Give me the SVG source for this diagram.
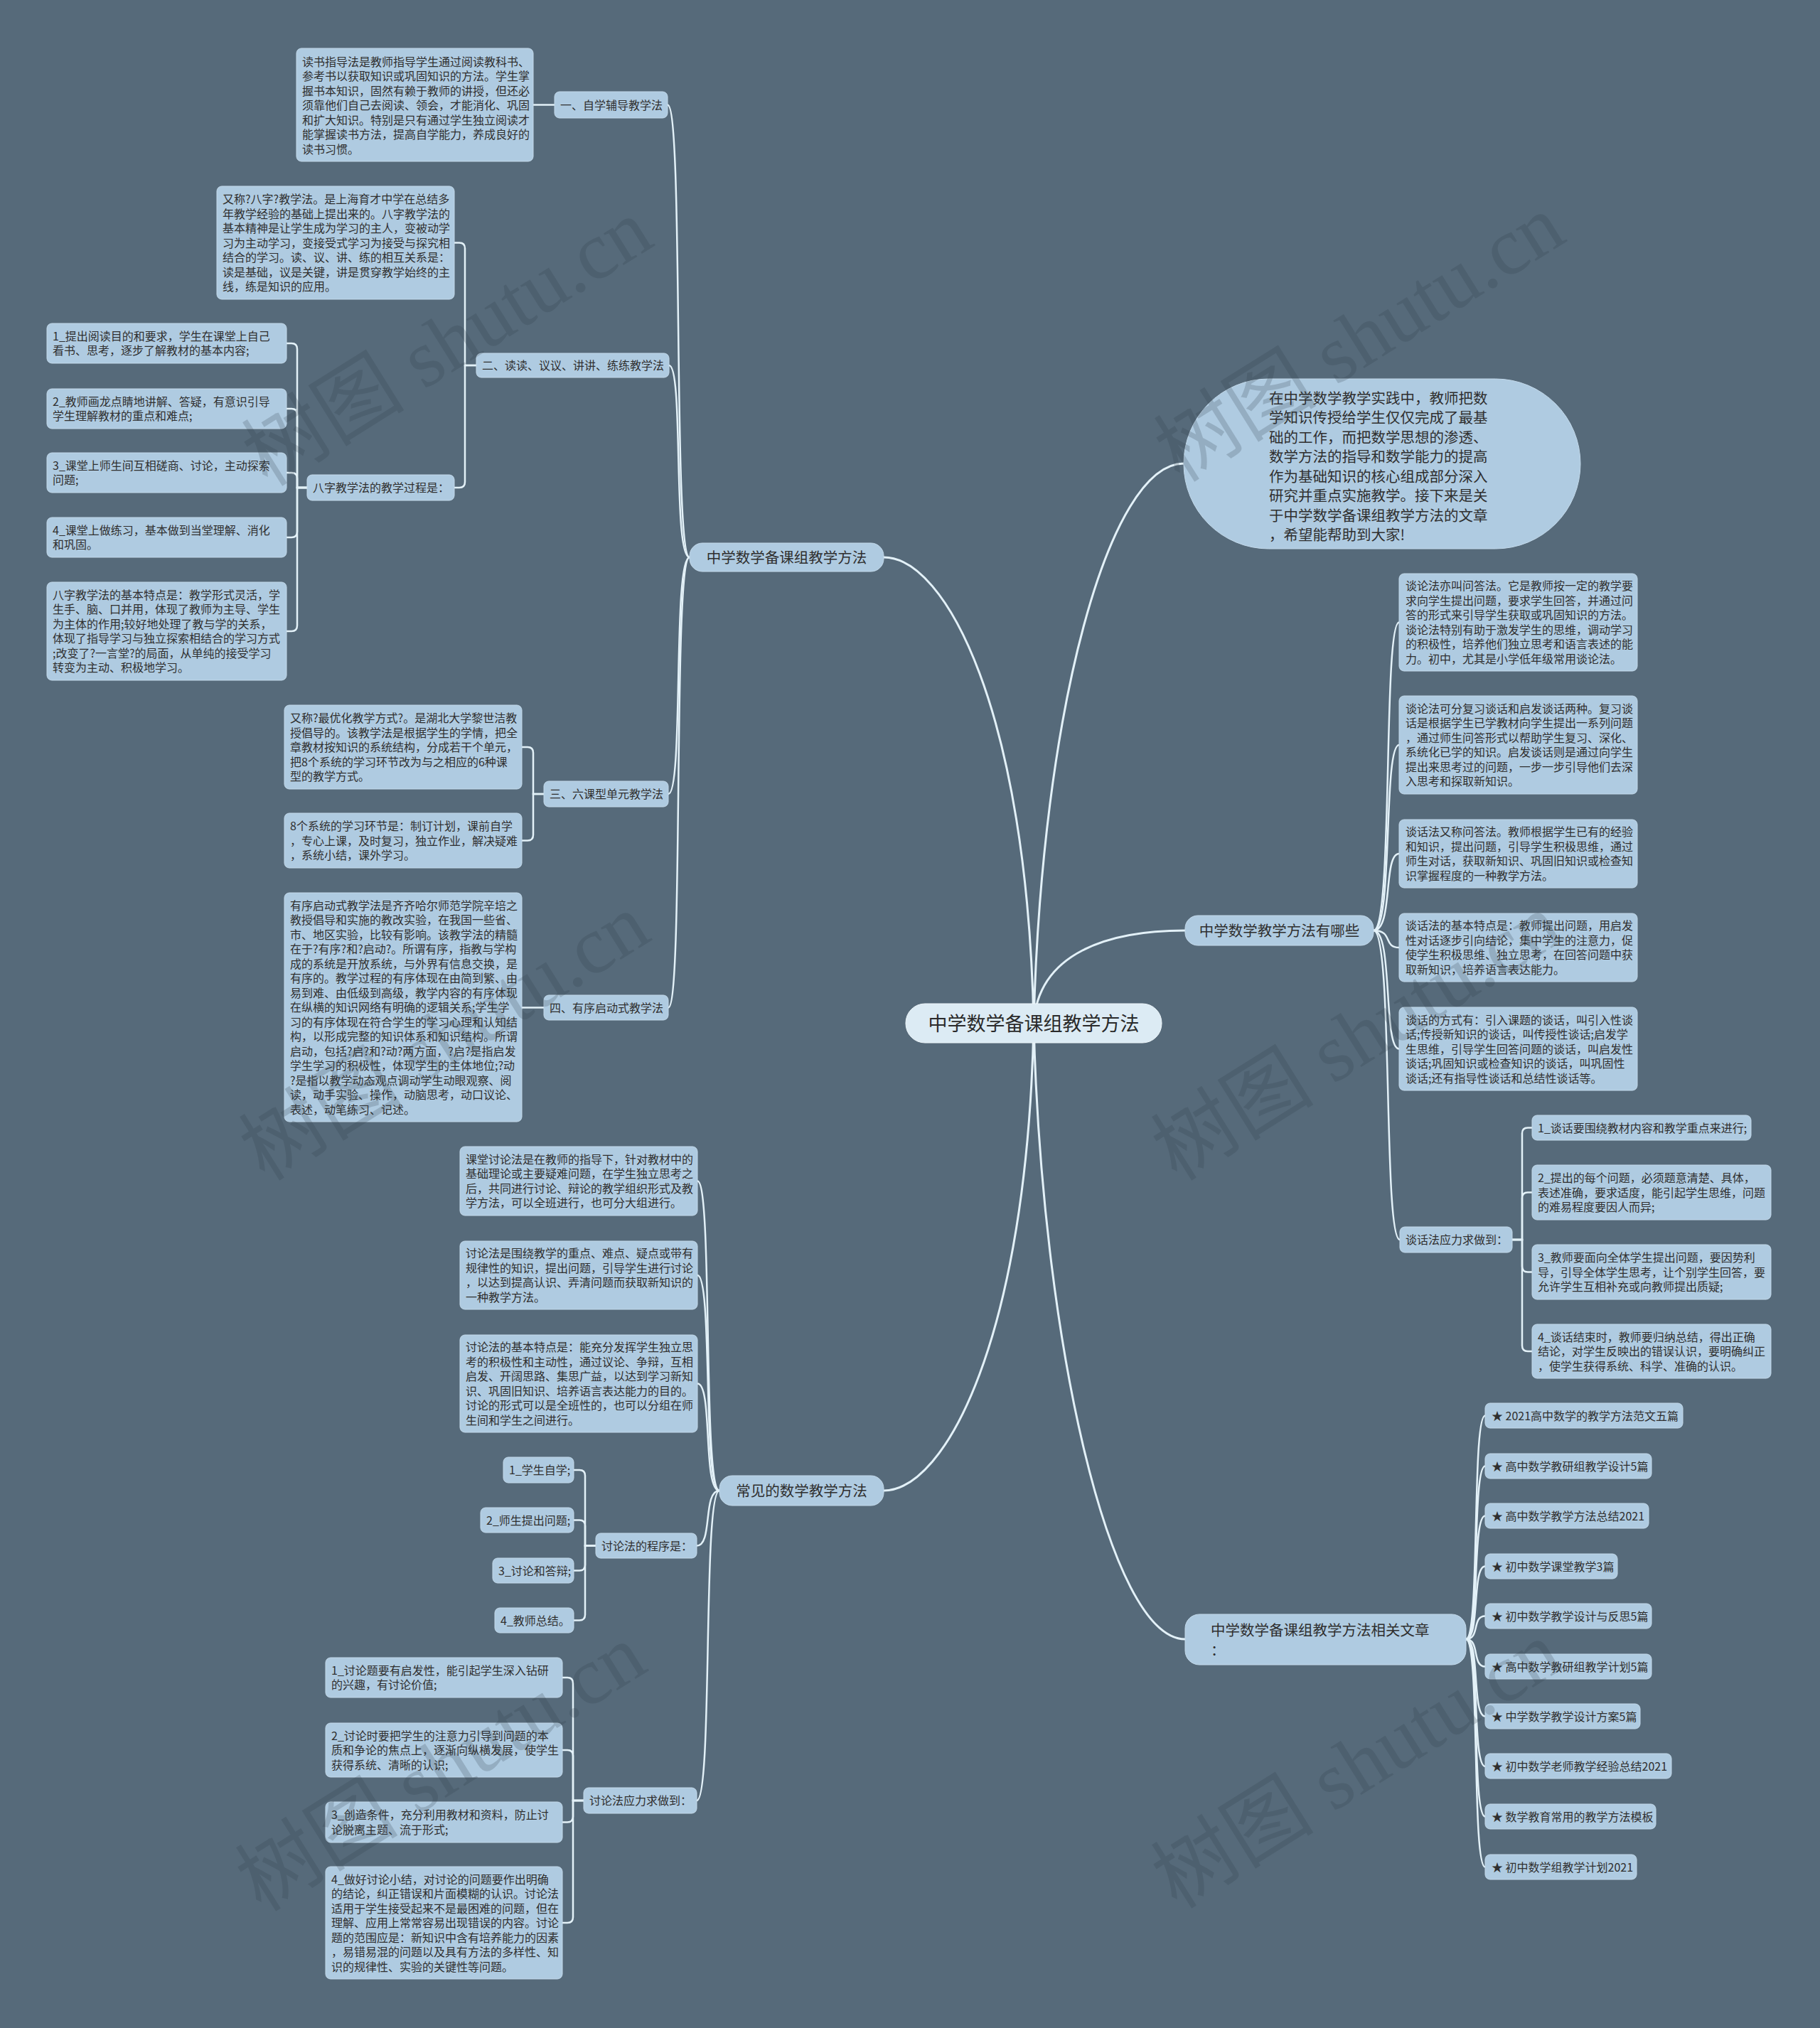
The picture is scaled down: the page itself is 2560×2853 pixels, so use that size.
<svg xmlns="http://www.w3.org/2000/svg" width="2560" height="2853" viewBox="0 0 2560 2853">
<style>
.bg{fill:#566a7a}
.n rect{fill:#afcbe1;stroke:#c3d9ea;stroke-width:1}
.n text{font-family:"Noto Sans CJK SC","Noto Sans",sans-serif;font-size:16px;fill:#2f2f2f}
.m rect{fill:#afcbe1;stroke:#c3d9ea;stroke-width:1}
.m text{font-family:"Noto Sans CJK SC","Noto Sans",sans-serif;font-size:20.5px;fill:#2f2f2f}
.root rect{fill:#dcebf4;stroke:#eef6fa;stroke-width:1}
.root text{font-family:"Noto Sans CJK SC","Noto Sans",sans-serif;font-size:27px;fill:#2a2a2a}
.c path{fill:none;stroke:#e3f1f8;stroke-width:2.5;stroke-linecap:round}
.c .main{stroke-width:3}
.wm{font-family:"Liberation Serif","Noto Sans CJK SC",serif;font-size:115px;fill:#2c3a46;opacity:0.2}
</style>
<rect class="bg" x="0" y="0" width="2560" height="2853"/>

<g id="connectors" class="c">
<!-- root curves -->
<path class="main" d="M1454,1440 C1445,1000 1330,784 1243,784"/>
<path class="main" d="M1454,1440 C1445,1880 1330,2097 1243,2097"/>
<path class="main" d="M1454,1440 C1465,1000 1560,652 1665,652"/>
<path class="main" d="M1454,1440 C1460,1340 1560,1309 1667,1309"/>
<path class="main" d="M1454,1440 C1465,1880 1560,2306 1667,2306"/>
<!-- left branch level 2 -->
<path d="M970,784 C946,784 962,147.5 939,147.5"/>
<path d="M970,784 C946,784 962,514 941,514"/>
<path d="M970,784 C946,784 962,1117 940,1117"/>
<path d="M970,784 C946,784 962,1417.5 940,1417.5"/>
<!-- 常见 level 2 -->
<path d="M1012,2097 C988,2097 1003,1661.5 981,1661.5"/>
<path d="M1012,2097 C988,2097 1003,1794 981,1794"/>
<path d="M1012,2097 C988,2097 1003,1946.5 981,1946.5"/>
<path d="M1012,2097 C988,2097 1003,2174.5 980,2174.5"/>
<path d="M1012,2097 C988,2097 1003,2533 980,2533"/>
<!-- 有哪些 level 2 -->
<path d="M1932,1309 C1960,1309 1945,875.5 1968,875.5"/>
<path d="M1932,1309 C1960,1309 1945,1048 1968,1048"/>
<path d="M1932,1309 C1960,1309 1945,1201 1968,1201"/>
<path d="M1932,1309 C1960,1309 1945,1333 1968,1333"/>
<path d="M1932,1309 C1960,1309 1945,1475.5 1968,1475.5"/>
<path d="M1932,1309 C1960,1309 1945,1744 1969,1744"/>
<!-- 相关文章 level 2 -->
<path d="M2062,2306 C2082,2306 2070,1991.5 2089,1991.5"/>
<path d="M2062,2306 C2082,2306 2070,2062.5 2089,2062.5"/>
<path d="M2062,2306 C2082,2306 2070,2132.5 2089,2132.5"/>
<path d="M2062,2306 C2082,2306 2070,2203.5 2089,2203.5"/>
<path d="M2062,2306 C2082,2306 2070,2273.5 2089,2273.5"/>
<path d="M2062,2306 C2082,2306 2070,2344.5 2089,2344.5"/>
<path d="M2062,2306 C2082,2306 2070,2414.5 2089,2414.5"/>
<path d="M2062,2306 C2082,2306 2070,2485 2089,2485"/>
<path d="M2062,2306 C2082,2306 2070,2555.5 2089,2555.5"/>
<path d="M2062,2306 C2082,2306 2070,2626.5 2089,2626.5"/>
<!-- elbows -->
<path d="M750,147.5 H780"/>
<path d="M639,341.5 H646 Q654,341.5 654,349.5 V514 H670"/>
<path d="M639,686 H646 Q654,686 654,678 V514 H670"/>
<path d="M403,483 H410 Q418,483 418,491 V686 H432"/>
<path d="M403,575 H410 Q418,575 418,583 V686 H432"/>
<path d="M403,665 H410 Q418,665 418,673 V686 H432"/>
<path d="M403,756 H410 Q418,756 418,748 V686 H432"/>
<path d="M403,888 H410 Q418,888 418,880 V686 H432"/>
<path d="M734,1051 H742 Q750,1051 750,1059 V1117 H765"/>
<path d="M734,1182.5 H742 Q750,1182.5 750,1174.5 V1117 H765"/>
<path d="M734,1417.5 H765"/>
<path d="M807,2068 H815 Q823,2068 823,2076 V2174.5 H838"/>
<path d="M807,2138.5 H815 Q823,2138.5 823,2146.5 V2174.5 H838"/>
<path d="M807,2209.5 H815 Q823,2209.5 823,2201.5 V2174.5 H838"/>
<path d="M807,2279.5 H815 Q823,2279.5 823,2271.5 V2174.5 H838"/>
<path d="M791,2360 H798 Q806,2360 806,2368 V2533 H821"/>
<path d="M791,2462 H798 Q806,2462 806,2470 V2533 H821"/>
<path d="M791,2563.5 H798 Q806,2563.5 806,2555.5 V2533 H821"/>
<path d="M791,2705 H798 Q806,2705 806,2697 V2533 H821"/>
<path d="M2127,1744 H2141 V1594.5 Q2141,1586.5 2149,1586.5 H2155"/>
<path d="M2127,1744 H2141 V1685.5 Q2141,1677.5 2149,1677.5 H2155"/>
<path d="M2127,1744 H2141 V1781.5 Q2141,1789.5 2149,1789.5 H2155"/>
<path d="M2127,1744 H2141 V1893 Q2141,1901 2149,1901 H2155"/>
</g>

<!-- root -->
<g id="root" class="root"><rect x="1274" y="1412" width="360" height="55" rx="27"/><text x="1454" y="1449.5" text-anchor="middle">中学数学备课组教学方法</text></g>

<!-- main branches -->
<g id="b-left" class="m"><rect x="970" y="764" width="273" height="40" rx="18"/><text x="1106.5" y="791.5" text-anchor="middle">中学数学备课组教学方法</text></g>
<g id="b-common" class="m"><rect x="1012" y="2076" width="231" height="42" rx="18"/><text x="1127.5" y="2105" text-anchor="middle">常见的数学教学方法</text></g>
<g id="b-intro" class="m"><rect x="1665" y="533" width="558" height="239" rx="119.5"/><text x="1785" y="567.8"><tspan x="1785">在中学数学教学实践中，教师把数</tspan><tspan x="1785" dy="27.5">学知识传授给学生仅仅完成了最基</tspan><tspan x="1785" dy="27.5">础的工作，而把数学思想的渗透、</tspan><tspan x="1785" dy="27.5">数学方法的指导和数学能力的提高</tspan><tspan x="1785" dy="27.5">作为基础知识的核心组成部分深入</tspan><tspan x="1785" dy="27.5">研究并重点实施教学。接下来是关</tspan><tspan x="1785" dy="27.5">于中学数学备课组教学方法的文章</tspan><tspan x="1785" dy="27.5">，希望能帮助到大家!</tspan></text></g>
<g id="b-which" class="m"><rect x="1667" y="1288" width="265" height="42" rx="18"/><text x="1799.5" y="1316.5" text-anchor="middle">中学数学教学方法有哪些</text></g>
<g id="b-related" class="m"><rect x="1667" y="2271" width="395" height="71" rx="20"/><text x="1703" y="2300.5"><tspan x="1703">中学数学备课组教学方法相关文章</tspan><tspan x="1703" dy="28">：</tspan></text></g>

<!-- left branch children -->
<g id="n1" class="n"><rect x="780" y="129" width="159" height="37" rx="7"/><text x="788" y="153.5">一、自学辅导教学法</text></g>
<g id="n1a" class="n"><rect x="417" y="68" width="333" height="159" rx="7"/><text x="425" y="92.5"><tspan x="425">读书指导法是教师指导学生通过阅读教科书、</tspan><tspan x="425" dy="20.5">参考书以获取知识或巩固知识的方法。学生掌</tspan><tspan x="425" dy="20.5">握书本知识，固然有赖于教师的讲授，但还必</tspan><tspan x="425" dy="20.5">须靠他们自己去阅读、领会，才能消化、巩固</tspan><tspan x="425" dy="20.5">和扩大知识。特别是只有通过学生独立阅读才</tspan><tspan x="425" dy="20.5">能掌握读书方法，提高自学能力，养成良好的</tspan><tspan x="425" dy="20.5">读书习惯。</tspan></text></g>

<g id="n2" class="n"><rect x="670" y="497" width="271" height="34" rx="7"/><text x="678" y="520">二、读读、议议、讲讲、练练教学法</text></g>
<g id="n2a" class="n"><rect x="305" y="262" width="334" height="159" rx="7"/><text x="313" y="286"><tspan x="313">又称?八字?教学法。是上海育才中学在总结多</tspan><tspan x="313" dy="20.5">年教学经验的基础上提出来的。八字教学法的</tspan><tspan x="313" dy="20.5">基本精神是让学生成为学习的主人，变被动学</tspan><tspan x="313" dy="20.5">习为主动学习，变接受式学习为接受与探究相</tspan><tspan x="313" dy="20.5">结合的学习。读、议、讲、练的相互关系是：</tspan><tspan x="313" dy="20.5">读是基础，议是关键，讲是贯穿教学始终的主</tspan><tspan x="313" dy="20.5">线，练是知识的应用。</tspan></text></g>
<g id="n2b" class="n"><rect x="432" y="668" width="207" height="36" rx="7"/><text x="440" y="692">八字教学法的教学过程是：</text></g>
<g id="n2b1" class="n"><rect x="66" y="455" width="337" height="56" rx="7"/><text x="74" y="478.75"><tspan x="74">1_提出阅读目的和要求，学生在课堂上自己</tspan><tspan x="74" dy="20.5">看书、思考，逐步了解教材的基本内容;</tspan></text></g>
<g id="n2b2" class="n"><rect x="66" y="547" width="337" height="56" rx="7"/><text x="74" y="570.75"><tspan x="74">2_教师画龙点睛地讲解、答疑，有意识引导</tspan><tspan x="74" dy="20.5">学生理解教材的重点和难点;</tspan></text></g>
<g id="n2b3" class="n"><rect x="66" y="637" width="337" height="56" rx="7"/><text x="74" y="660.75"><tspan x="74">3_课堂上师生间互相磋商、讨论，主动探索</tspan><tspan x="74" dy="20.5">问题;</tspan></text></g>
<g id="n2b4" class="n"><rect x="66" y="728" width="337" height="56" rx="7"/><text x="74" y="751.75"><tspan x="74">4_课堂上做练习，基本做到当堂理解、消化</tspan><tspan x="74" dy="20.5">和巩固。</tspan></text></g>
<g id="n2b5" class="n"><rect x="66" y="819" width="337" height="138" rx="7"/><text x="74" y="842.75"><tspan x="74">八字教学法的基本特点是：教学形式灵活，学</tspan><tspan x="74" dy="20.5">生手、脑、口并用，体现了教师为主导、学生</tspan><tspan x="74" dy="20.5">为主体的作用;较好地处理了教与学的关系，</tspan><tspan x="74" dy="20.5">体现了指导学习与独立探索相结合的学习方式</tspan><tspan x="74" dy="20.5">;改变了?一言堂?的局面，从单纯的接受学习</tspan><tspan x="74" dy="20.5">转变为主动、积极地学习。</tspan></text></g>

<g id="n3" class="n"><rect x="765" y="1099" width="175" height="36" rx="7"/><text x="773" y="1123">三、六课型单元教学法</text></g>
<g id="n3a" class="n"><rect x="400" y="992" width="334" height="118" rx="7"/><text x="408" y="1016"><tspan x="408">又称?最优化教学方式?。是湖北大学黎世洁教</tspan><tspan x="408" dy="20.5">授倡导的。该教学法是根据学生的学情，把全</tspan><tspan x="408" dy="20.5">章教材按知识的系统结构，分成若干个单元，</tspan><tspan x="408" dy="20.5">把8个系统的学习环节改为与之相应的6种课</tspan><tspan x="408" dy="20.5">型的教学方式。</tspan></text></g>
<g id="n3b" class="n"><rect x="400" y="1144" width="334" height="77" rx="7"/><text x="408" y="1168"><tspan x="408">8个系统的学习环节是：制订计划，课前自学</tspan><tspan x="408" dy="20.5">，专心上课，及时复习，独立作业，解决疑难</tspan><tspan x="408" dy="20.5">，系统小结，课外学习。</tspan></text></g>

<g id="n4" class="n"><rect x="765" y="1400" width="175" height="35" rx="7"/><text x="773" y="1423.5">四、有序启动式教学法</text></g>
<g id="n4a" class="n"><rect x="400" y="1256" width="334" height="322" rx="7"/><text x="408" y="1279.5"><tspan x="408">有序启动式教学法是齐齐哈尔师范学院辛培之</tspan><tspan x="408" dy="20.5">教授倡导和实施的教改实验，在我国一些省、</tspan><tspan x="408" dy="20.5">市、地区实验，比较有影响。该教学法的精髓</tspan><tspan x="408" dy="20.5">在于?有序?和?启动?。所谓有序，指教与学构</tspan><tspan x="408" dy="20.5">成的系统是开放系统，与外界有信息交换，是</tspan><tspan x="408" dy="20.5">有序的。教学过程的有序体现在由简到繁、由</tspan><tspan x="408" dy="20.5">易到难、由低级到高级，教学内容的有序体现</tspan><tspan x="408" dy="20.5">在纵横的知识网络有明确的逻辑关系;学生学</tspan><tspan x="408" dy="20.5">习的有序体现在符合学生的学习心理和认知结</tspan><tspan x="408" dy="20.5">构，以形成完整的知识体系和知识结构。所谓</tspan><tspan x="408" dy="20.5">启动，包括?启?和?动?两方面，?启?是指启发</tspan><tspan x="408" dy="20.5">学生学习的积极性，体现学生的主体地位;?动</tspan><tspan x="408" dy="20.5">?是指以教学动态观点调动学生动眼观察、阅</tspan><tspan x="408" dy="20.5">读，动手实验、操作，动脑思考，动口议论、</tspan><tspan x="408" dy="20.5">表述，动笔练习、记述。</tspan></text></g>

<!-- 常见 children -->
<g id="c1" class="n"><rect x="647" y="1613" width="334" height="97" rx="7"/><text x="655" y="1636.75"><tspan x="655">课堂讨论法是在教师的指导下，针对教材中的</tspan><tspan x="655" dy="20.5">基础理论或主要疑难问题，在学生独立思考之</tspan><tspan x="655" dy="20.5">后，共同进行讨论、辩论的教学组织形式及教</tspan><tspan x="655" dy="20.5">学方法，可以全班进行，也可分大组进行。</tspan></text></g>
<g id="c2" class="n"><rect x="647" y="1746" width="334" height="96" rx="7"/><text x="655" y="1769.25"><tspan x="655">讨论法是围绕教学的重点、难点、疑点或带有</tspan><tspan x="655" dy="20.5">规律性的知识，提出问题，引导学生进行讨论</tspan><tspan x="655" dy="20.5">，以达到提高认识、弄清问题而获取新知识的</tspan><tspan x="655" dy="20.5">一种教学方法。</tspan></text></g>
<g id="c3" class="n"><rect x="647" y="1878" width="334" height="137" rx="7"/><text x="655" y="1901.25"><tspan x="655">讨论法的基本特点是：能充分发挥学生独立思</tspan><tspan x="655" dy="20.5">考的积极性和主动性，通过议论、争辩，互相</tspan><tspan x="655" dy="20.5">启发、开阔思路、集思广益，以达到学习新知</tspan><tspan x="655" dy="20.5">识、巩固旧知识、培养语言表达能力的目的。</tspan><tspan x="655" dy="20.5">讨论的形式可以是全班性的，也可以分组在师</tspan><tspan x="655" dy="20.5">生间和学生之间进行。</tspan></text></g>
<g id="c4" class="n"><rect x="838" y="2157" width="142" height="35" rx="7"/><text x="846" y="2180.5">讨论法的程序是：</text></g>
<g id="c4a" class="n"><rect x="708" y="2050" width="99" height="36" rx="7"/><text x="716" y="2074">1_学生自学;</text></g>
<g id="c4b" class="n"><rect x="676" y="2121" width="131" height="35" rx="7"/><text x="684" y="2144.5">2_师生提出问题;</text></g>
<g id="c4c" class="n"><rect x="693" y="2192" width="114" height="35" rx="7"/><text x="701" y="2215.5">3_讨论和答辩;</text></g>
<g id="c4d" class="n"><rect x="696" y="2262" width="111" height="35" rx="7"/><text x="704" y="2285.5">4_教师总结。</text></g>
<g id="c5" class="n"><rect x="821" y="2515" width="159" height="36" rx="7"/><text x="829" y="2539">讨论法应力求做到：</text></g>
<g id="c5a" class="n"><rect x="458" y="2332" width="333" height="56" rx="7"/><text x="466" y="2355.75"><tspan x="466">1_讨论题要有启发性，能引起学生深入钻研</tspan><tspan x="466" dy="20.5">的兴趣，有讨论价值;</tspan></text></g>
<g id="c5b" class="n"><rect x="458" y="2424" width="333" height="76" rx="7"/><text x="466" y="2447.5"><tspan x="466">2_讨论时要把学生的注意力引导到问题的本</tspan><tspan x="466" dy="20.5">质和争论的焦点上，逐渐向纵横发展，使学生</tspan><tspan x="466" dy="20.5">获得系统、清晰的认识;</tspan></text></g>
<g id="c5c" class="n"><rect x="458" y="2535" width="333" height="57" rx="7"/><text x="466" y="2559.25"><tspan x="466">3_创造条件，充分利用教材和资料，防止讨</tspan><tspan x="466" dy="20.5">论脱离主题、流于形式;</tspan></text></g>
<g id="c5d" class="n"><rect x="458" y="2626" width="333" height="158" rx="7"/><text x="466" y="2649.5"><tspan x="466">4_做好讨论小结，对讨论的问题要作出明确</tspan><tspan x="466" dy="20.5">的结论，纠正错误和片面模糊的认识。讨论法</tspan><tspan x="466" dy="20.5">适用于学生接受起来不是最困难的问题，但在</tspan><tspan x="466" dy="20.5">理解、应用上常常容易出现错误的内容。讨论</tspan><tspan x="466" dy="20.5">题的范围应是：新知识中含有培养能力的因素</tspan><tspan x="466" dy="20.5">，易错易混的问题以及具有方法的多样性、知</tspan><tspan x="466" dy="20.5">识的规律性、实验的关键性等问题。</tspan></text></g>

<!-- 有哪些 children -->
<g id="w1" class="n"><rect x="1968" y="807" width="335" height="137" rx="7"/><text x="1977" y="830.25"><tspan x="1977">谈论法亦叫问答法。它是教师按一定的教学要</tspan><tspan x="1977" dy="20.5">求向学生提出问题，要求学生回答，并通过问</tspan><tspan x="1977" dy="20.5">答的形式来引导学生获取或巩固知识的方法。</tspan><tspan x="1977" dy="20.5">谈论法特别有助于激发学生的思维，调动学习</tspan><tspan x="1977" dy="20.5">的积极性，培养他们独立思考和语言表述的能</tspan><tspan x="1977" dy="20.5">力。初中，尤其是小学低年级常用谈论法。</tspan></text></g>
<g id="w2" class="n"><rect x="1968" y="979" width="335" height="138" rx="7"/><text x="1977" y="1002.75"><tspan x="1977">谈论法可分复习谈话和启发谈话两种。复习谈</tspan><tspan x="1977" dy="20.5">话是根据学生已学教材向学生提出一系列问题</tspan><tspan x="1977" dy="20.5">，通过师生问答形式以帮助学生复习、深化、</tspan><tspan x="1977" dy="20.5">系统化已学的知识。启发谈话则是通过向学生</tspan><tspan x="1977" dy="20.5">提出来思考过的问题，一步一步引导他们去深</tspan><tspan x="1977" dy="20.5">入思考和探取新知识。</tspan></text></g>
<g id="w3" class="n"><rect x="1968" y="1153" width="335" height="96" rx="7"/><text x="1977" y="1176.25"><tspan x="1977">谈话法又称问答法。教师根据学生已有的经验</tspan><tspan x="1977" dy="20.5">和知识，提出问题，引导学生积极思维，通过</tspan><tspan x="1977" dy="20.5">师生对话，获取新知识、巩固旧知识或检查知</tspan><tspan x="1977" dy="20.5">识掌握程度的一种教学方法。</tspan></text></g>
<g id="w4" class="n"><rect x="1968" y="1285" width="335" height="96" rx="7"/><text x="1977" y="1308.25"><tspan x="1977">谈话法的基本特点是：教师提出问题，用启发</tspan><tspan x="1977" dy="20.5">性对话逐步引向结论，集中学生的注意力，促</tspan><tspan x="1977" dy="20.5">使学生积极思维、独立思考，在回答问题中获</tspan><tspan x="1977" dy="20.5">取新知识，培养语言表达能力。</tspan></text></g>
<g id="w5" class="n"><rect x="1968" y="1417" width="335" height="117" rx="7"/><text x="1977" y="1440.5"><tspan x="1977">谈话的方式有：引入课题的谈话，叫引入性谈</tspan><tspan x="1977" dy="20.5">话;传授新知识的谈话，叫传授性谈话;启发学</tspan><tspan x="1977" dy="20.5">生思维，引导学生回答问题的谈话，叫启发性</tspan><tspan x="1977" dy="20.5">谈话;巩固知识或检查知识的谈话，叫巩固性</tspan><tspan x="1977" dy="20.5">谈话;还有指导性谈话和总结性谈话等。</tspan></text></g>
<g id="w6" class="n"><rect x="1969" y="1726" width="158" height="36" rx="7"/><text x="1977" y="1750">谈话法应力求做到：</text></g>
<g id="w6a" class="n"><rect x="2155" y="1569" width="308" height="35" rx="7"/><text x="2163" y="1592.5">1_谈话要围绕教材内容和教学重点来进行;</text></g>
<g id="w6b" class="n"><rect x="2155" y="1639" width="336" height="77" rx="7"/><text x="2163" y="1663"><tspan x="2163">2_提出的每个问题，必须题意清楚、具体，</tspan><tspan x="2163" dy="20.5">表述准确，要求适度，能引起学生思维，问题</tspan><tspan x="2163" dy="20.5">的难易程度要因人而异;</tspan></text></g>
<g id="w6c" class="n"><rect x="2155" y="1751" width="336" height="77" rx="7"/><text x="2163" y="1775"><tspan x="2163">3_教师要面向全体学生提出问题，要因势利</tspan><tspan x="2163" dy="20.5">导，引导全体学生思考，让个别学生回答，要</tspan><tspan x="2163" dy="20.5">允许学生互相补充或向教师提出质疑;</tspan></text></g>
<g id="w6d" class="n"><rect x="2155" y="1863" width="336" height="76" rx="7"/><text x="2163" y="1886.5"><tspan x="2163">4_谈话结束时，教师要归纳总结，得出正确</tspan><tspan x="2163" dy="20.5">结论，对学生反映出的错误认识，要明确纠正</tspan><tspan x="2163" dy="20.5">，使学生获得系统、科学、准确的认识。</tspan></text></g>

<!-- related articles -->
<g id="r1" class="n"><rect x="2089" y="1974" width="278" height="35" rx="7"/><text x="2098" y="1997.5">★ 2021高中数学的教学方法范文五篇</text></g>
<g id="r2" class="n"><rect x="2089" y="2045" width="234" height="35" rx="7"/><text x="2098" y="2068.5">★ 高中数学教研组教学设计5篇</text></g>
<g id="r3" class="n"><rect x="2089" y="2115" width="230" height="35" rx="7"/><text x="2098" y="2138.5">★ 高中数学教学方法总结2021</text></g>
<g id="r4" class="n"><rect x="2089" y="2186" width="186" height="35" rx="7"/><text x="2098" y="2209.5">★ 初中数学课堂教学3篇</text></g>
<g id="r5" class="n"><rect x="2089" y="2256" width="234" height="35" rx="7"/><text x="2098" y="2279.5">★ 初中数学教学设计与反思5篇</text></g>
<g id="r6" class="n"><rect x="2089" y="2327" width="234" height="35" rx="7"/><text x="2098" y="2350.5">★ 高中数学教研组教学计划5篇</text></g>
<g id="r7" class="n"><rect x="2089" y="2397" width="218" height="35" rx="7"/><text x="2098" y="2420.5">★ 中学数学教学设计方案5篇</text></g>
<g id="r8" class="n"><rect x="2089" y="2467" width="262" height="35" rx="7"/><text x="2098" y="2490.5">★ 初中数学老师教学经验总结2021</text></g>
<g id="r9" class="n"><rect x="2089" y="2538" width="240" height="35" rx="7"/><text x="2098" y="2561.5">★ 数学教育常用的教学方法模板</text></g>
<g id="r10" class="n"><rect x="2089" y="2609" width="213" height="35" rx="7"/><text x="2098" y="2632.5">★ 初中数学组教学计划2021</text></g>

<!-- watermark -->
<g id="watermark">
<text class="wm" x="650" y="515" text-anchor="middle" transform="rotate(-32 650 515)">树图 shutu.cn</text>
<text class="wm" x="646" y="1492" text-anchor="middle" transform="rotate(-32 646 1492)">树图 shutu.cn</text>
<text class="wm" x="641" y="2520" text-anchor="middle" transform="rotate(-32 641 2520)">树图 shutu.cn</text>
<text class="wm" x="1933" y="509" text-anchor="middle" transform="rotate(-32 1933 509)">树图 shutu.cn</text>
<text class="wm" x="1929" y="1492" text-anchor="middle" transform="rotate(-32 1929 1492)">树图 shutu.cn</text>
<text class="wm" x="1929" y="2516" text-anchor="middle" transform="rotate(-32 1929 2516)">树图 shutu.cn</text>
</g>
</svg>
